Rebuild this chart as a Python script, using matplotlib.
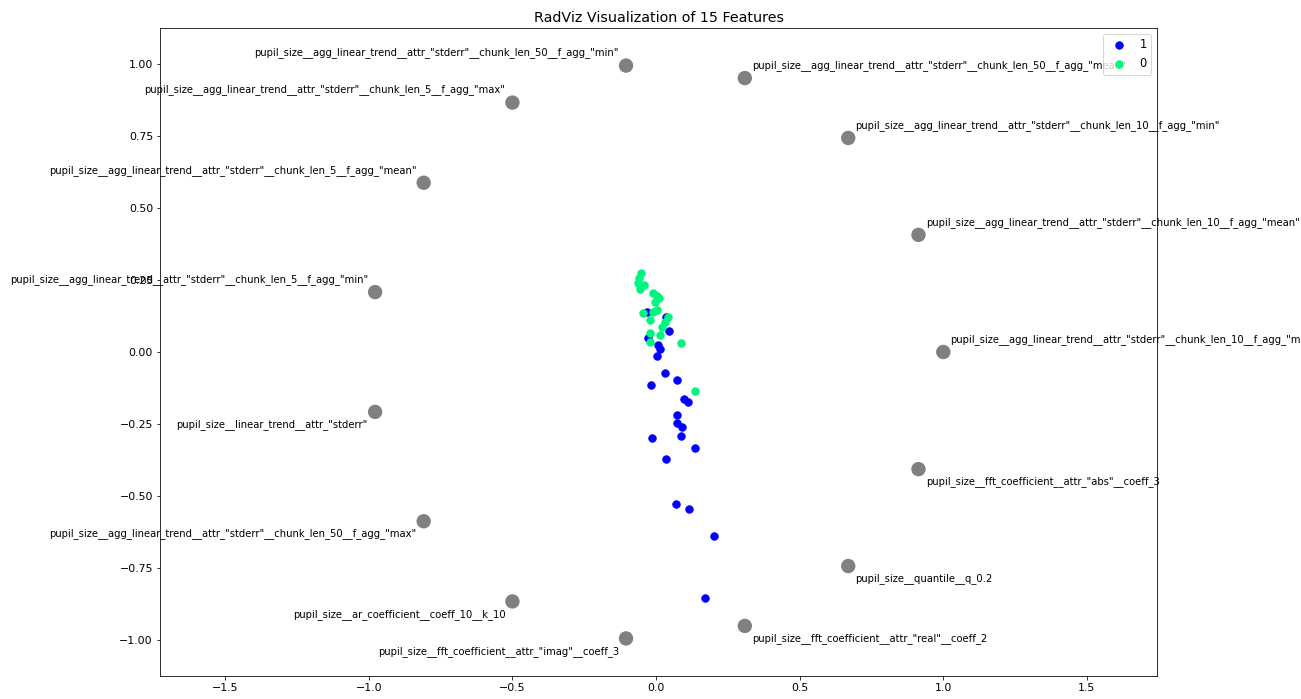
import numpy as np
import matplotlib
matplotlib.use("Agg")
import matplotlib.pyplot as plt
import matplotlib.patches as patches

features = [
    'pupil_size__agg_linear_trend__attr_"stderr"__chunk_len_10__f_agg_"max"',
    'pupil_size__agg_linear_trend__attr_"stderr"__chunk_len_10__f_agg_"mean"',
    'pupil_size__agg_linear_trend__attr_"stderr"__chunk_len_10__f_agg_"min"',
    'pupil_size__agg_linear_trend__attr_"stderr"__chunk_len_50__f_agg_"mean"',
    'pupil_size__agg_linear_trend__attr_"stderr"__chunk_len_50__f_agg_"min"',
    'pupil_size__agg_linear_trend__attr_"stderr"__chunk_len_5__f_agg_"max"',
    'pupil_size__agg_linear_trend__attr_"stderr"__chunk_len_5__f_agg_"mean"',
    'pupil_size__agg_linear_trend__attr_"stderr"__chunk_len_5__f_agg_"min"',
    'pupil_size__linear_trend__attr_"stderr"',
    'pupil_size__agg_linear_trend__attr_"stderr"__chunk_len_50__f_agg_"max"',
    'pupil_size__ar_coefficient__coeff_10__k_10',
    'pupil_size__fft_coefficient__attr_"imag"__coeff_3',
    'pupil_size__fft_coefficient__attr_"real"__coeff_2',
    'pupil_size__quantile__q_0.2',
    'pupil_size__fft_coefficient__attr_"abs"__coeff_3',
]

# projected points, class "1"
x1 = [-0.031, 0.035, 0.045, -0.028, 0.007, 0.014, 0.003, 0.031, 0.073, -0.017,
      0.097, 0.111, 0.073, 0.073, 0.090, 0.087, -0.014, 0.136, 0.035, 0.070,
      0.115, 0.202, 0.171]
y1 = [0.139, 0.122, 0.073, 0.049, 0.024, 0.010, -0.014, -0.073, -0.097, -0.115,
      -0.163, -0.174, -0.219, -0.247, -0.260, -0.292, -0.299, -0.333, -0.372, -0.528,
      -0.545, -0.639, -0.854]

# projected points, class "0"
x0 = [-0.052, -0.059, -0.063, -0.042, -0.056, -0.010, 0.003, 0.010, -0.003, 0.003,
      -0.045, -0.010, -0.021, 0.042, 0.031, 0.021, -0.021, 0.014, -0.021, 0.087,
      0.136]
y0 = [0.274, 0.257, 0.240, 0.233, 0.219, 0.205, 0.194, 0.188, 0.174, 0.146,
      0.135, 0.139, 0.111, 0.122, 0.104, 0.087, 0.066, 0.059, 0.035, 0.031,
      -0.135]

W, H, DPI = 1301, 699, 72
fig = plt.figure(figsize=(W / DPI, H / DPI), dpi=DPI)
ax = fig.add_axes([160 / W, (699 - 676) / H, 997 / W, 648 / H])

ax.scatter(x1, y1, color='#0000ff', s=55, label='1')
ax.scatter(x0, y0, color='#00f57f', s=55, label='0')

LBL = 10.0
m = len(features)
for i, name in enumerate(features):
    t = 2.0 * np.pi * i / m
    cx, cy = np.cos(t), np.sin(t)
    ax.add_patch(patches.Circle((cx, cy), radius=0.025, facecolor='gray',
                                edgecolor='none', zorder=3))
    if cx < 0 and cy < 0:
        ax.text(cx - 0.025, cy - 0.025, name, ha='right', va='top', fontsize=LBL)
    elif cx < 0 and cy >= 0:
        ax.text(cx - 0.025, cy + 0.025, name, ha='right', va='bottom', fontsize=LBL)
    elif cx >= 0 and cy < 0:
        ax.text(cx + 0.025, cy - 0.025, name, ha='left', va='top', fontsize=LBL)
    else:
        ax.text(cx + 0.025, cy + 0.025, name, ha='left', va='bottom', fontsize=LBL)

ax.set_xlim(-1.727, 1.744)
ax.set_ylim(-1.125, 1.125)
ax.set_xticks([-1.5, -1.0, -0.5, 0.0, 0.5, 1.0, 1.5])
ax.set_yticks([-1.0, -0.75, -0.5, -0.25, 0.0, 0.25, 0.5, 0.75, 1.0])
ax.tick_params(labelsize=11)
ax.set_title('RadViz Visualization of 15 Features', fontsize=14.3)
ax.legend(loc='upper right', fontsize=11.5)

fig.savefig('out.png', dpi=DPI)
